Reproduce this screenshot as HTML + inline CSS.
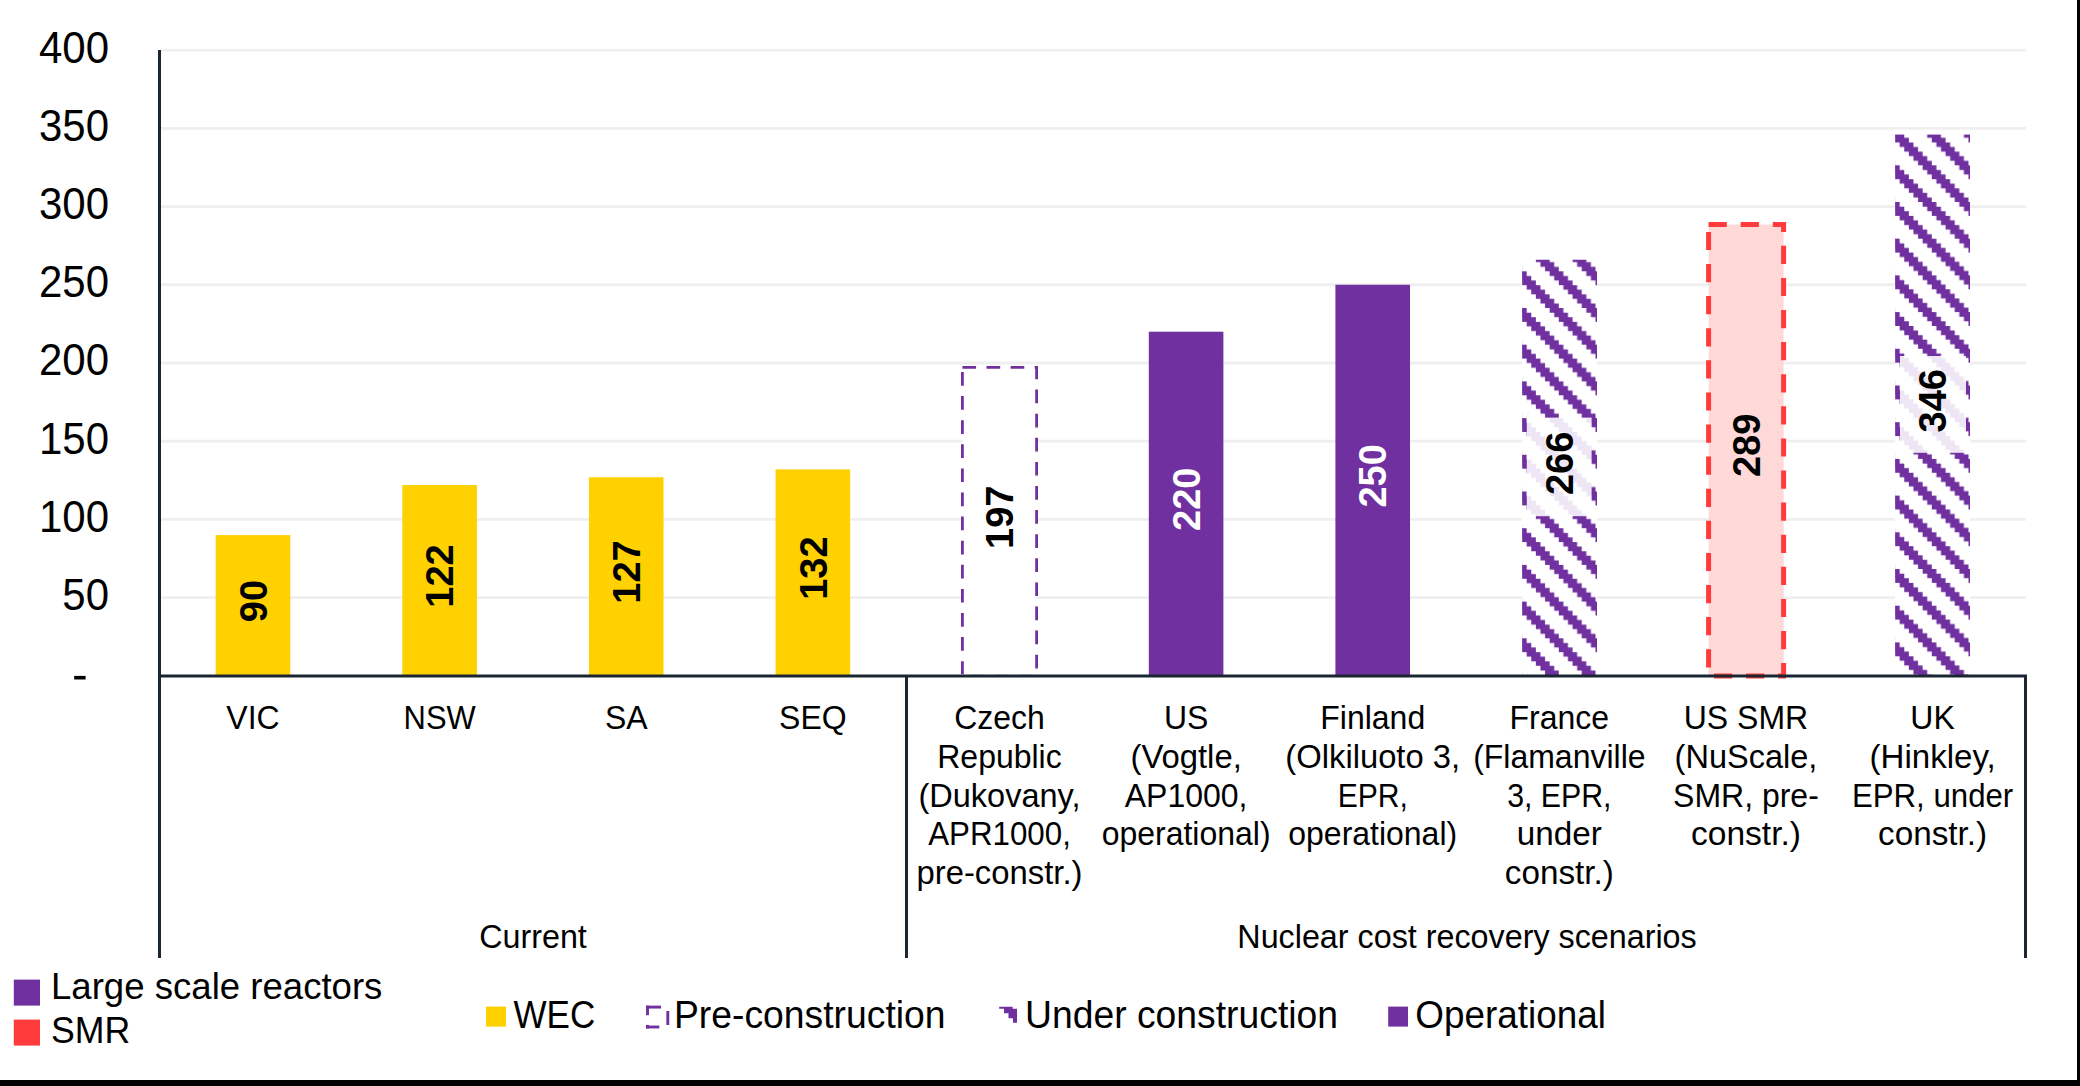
<!DOCTYPE html><html><head><meta charset="utf-8"><style>html,body{margin:0;padding:0;background:#fff;width:2080px;height:1086px;overflow:hidden}svg{display:block}text{font-family:"Liberation Sans",sans-serif}</style></head><body>
<svg width="2080" height="1086" viewBox="0 0 2080 1086">
<rect width="2080" height="1086" fill="#fff"/>
<defs><pattern id="hFr" patternUnits="userSpaceOnUse" x="1522.1" y="271.3" width="36.7" height="36.7"><path fill="#7030a0" d="M-18.350,-55.050 L-13.763,-55.050 L-13.763,-50.463 L-9.175,-50.463 L-9.175,-45.875 L-4.588,-45.875 L-4.588,-41.288 L0.000,-41.288 L0.000,-36.700 L4.588,-36.700 L4.588,-32.113 L9.175,-32.113 L9.175,-27.525 L13.763,-27.525 L13.763,-22.938 L18.350,-22.938 L18.350,-18.350 L22.938,-18.350 L22.938,-13.763 L27.525,-13.763 L27.525,-9.175 L32.113,-9.175 L32.113,-4.588 L36.700,-4.588 L36.700,0.000 L41.288,0.000 L41.288,4.588 L45.875,4.588 L45.875,9.175 L50.463,9.175 L50.463,13.763 L55.050,13.763 L55.050,18.350 L59.638,18.350 L59.638,32.113 L55.050,32.113 L55.050,27.525 L50.463,27.525 L50.463,22.938 L45.875,22.938 L45.875,18.350 L41.288,18.350 L41.288,13.763 L36.700,13.763 L36.700,9.175 L32.113,9.175 L32.113,4.588 L27.525,4.588 L27.525,0.000 L22.938,0.000 L22.938,-4.588 L18.350,-4.588 L18.350,-9.175 L13.763,-9.175 L13.763,-13.763 L9.175,-13.763 L9.175,-18.350 L4.588,-18.350 L4.588,-22.938 L0.000,-22.938 L0.000,-27.525 L-4.588,-27.525 L-4.588,-32.113 L-9.175,-32.113 L-9.175,-36.700 L-13.763,-36.700 L-13.763,-41.288 L-18.350,-41.288Z M-18.350,-18.350 L-13.763,-18.350 L-13.763,-13.763 L-9.175,-13.763 L-9.175,-9.175 L-4.588,-9.175 L-4.588,-4.588 L0.000,-4.588 L0.000,0.000 L4.588,0.000 L4.588,4.588 L9.175,4.588 L9.175,9.175 L13.763,9.175 L13.763,13.763 L18.350,13.763 L18.350,18.350 L22.938,18.350 L22.938,22.938 L27.525,22.938 L27.525,27.525 L32.113,27.525 L32.113,32.113 L36.700,32.113 L36.700,36.700 L41.288,36.700 L41.288,41.288 L45.875,41.288 L45.875,45.875 L50.463,45.875 L50.463,50.463 L55.050,50.463 L55.050,55.050 L59.638,55.050 L59.638,68.812 L55.050,68.812 L55.050,64.225 L50.463,64.225 L50.463,59.638 L45.875,59.638 L45.875,55.050 L41.288,55.050 L41.288,50.463 L36.700,50.463 L36.700,45.875 L32.113,45.875 L32.113,41.288 L27.525,41.288 L27.525,36.700 L22.938,36.700 L22.938,32.113 L18.350,32.113 L18.350,27.525 L13.763,27.525 L13.763,22.938 L9.175,22.938 L9.175,18.350 L4.588,18.350 L4.588,13.763 L0.000,13.763 L0.000,9.175 L-4.588,9.175 L-4.588,4.588 L-9.175,4.588 L-9.175,0.000 L-13.763,0.000 L-13.763,-4.588 L-18.350,-4.588Z M-18.350,18.350 L-13.763,18.350 L-13.763,22.938 L-9.175,22.938 L-9.175,27.525 L-4.588,27.525 L-4.588,32.113 L0.000,32.113 L0.000,36.700 L4.588,36.700 L4.588,41.288 L9.175,41.288 L9.175,45.875 L13.763,45.875 L13.763,50.463 L18.350,50.463 L18.350,55.050 L22.938,55.050 L22.938,59.638 L27.525,59.638 L27.525,64.225 L32.113,64.225 L32.113,68.812 L36.700,68.812 L36.700,73.400 L41.288,73.400 L41.288,77.988 L45.875,77.988 L45.875,82.575 L50.463,82.575 L50.463,87.163 L55.050,87.163 L55.050,91.750 L59.638,91.750 L59.638,105.513 L55.050,105.513 L55.050,100.925 L50.463,100.925 L50.463,96.338 L45.875,96.338 L45.875,91.750 L41.288,91.750 L41.288,87.163 L36.700,87.163 L36.700,82.575 L32.113,82.575 L32.113,77.988 L27.525,77.988 L27.525,73.400 L22.938,73.400 L22.938,68.812 L18.350,68.812 L18.350,64.225 L13.763,64.225 L13.763,59.638 L9.175,59.638 L9.175,55.050 L4.588,55.050 L4.588,50.463 L0.000,50.463 L0.000,45.875 L-4.588,45.875 L-4.588,41.288 L-9.175,41.288 L-9.175,36.700 L-13.763,36.700 L-13.763,32.113 L-18.350,32.113Z"/></pattern><pattern id="hUK" patternUnits="userSpaceOnUse" x="1895.1" y="165.3" width="36.7" height="36.7"><path fill="#7030a0" d="M-18.350,-55.050 L-13.763,-55.050 L-13.763,-50.463 L-9.175,-50.463 L-9.175,-45.875 L-4.588,-45.875 L-4.588,-41.288 L0.000,-41.288 L0.000,-36.700 L4.588,-36.700 L4.588,-32.113 L9.175,-32.113 L9.175,-27.525 L13.763,-27.525 L13.763,-22.938 L18.350,-22.938 L18.350,-18.350 L22.938,-18.350 L22.938,-13.763 L27.525,-13.763 L27.525,-9.175 L32.113,-9.175 L32.113,-4.588 L36.700,-4.588 L36.700,0.000 L41.288,0.000 L41.288,4.588 L45.875,4.588 L45.875,9.175 L50.463,9.175 L50.463,13.763 L55.050,13.763 L55.050,18.350 L59.638,18.350 L59.638,32.113 L55.050,32.113 L55.050,27.525 L50.463,27.525 L50.463,22.938 L45.875,22.938 L45.875,18.350 L41.288,18.350 L41.288,13.763 L36.700,13.763 L36.700,9.175 L32.113,9.175 L32.113,4.588 L27.525,4.588 L27.525,0.000 L22.938,0.000 L22.938,-4.588 L18.350,-4.588 L18.350,-9.175 L13.763,-9.175 L13.763,-13.763 L9.175,-13.763 L9.175,-18.350 L4.588,-18.350 L4.588,-22.938 L0.000,-22.938 L0.000,-27.525 L-4.588,-27.525 L-4.588,-32.113 L-9.175,-32.113 L-9.175,-36.700 L-13.763,-36.700 L-13.763,-41.288 L-18.350,-41.288Z M-18.350,-18.350 L-13.763,-18.350 L-13.763,-13.763 L-9.175,-13.763 L-9.175,-9.175 L-4.588,-9.175 L-4.588,-4.588 L0.000,-4.588 L0.000,0.000 L4.588,0.000 L4.588,4.588 L9.175,4.588 L9.175,9.175 L13.763,9.175 L13.763,13.763 L18.350,13.763 L18.350,18.350 L22.938,18.350 L22.938,22.938 L27.525,22.938 L27.525,27.525 L32.113,27.525 L32.113,32.113 L36.700,32.113 L36.700,36.700 L41.288,36.700 L41.288,41.288 L45.875,41.288 L45.875,45.875 L50.463,45.875 L50.463,50.463 L55.050,50.463 L55.050,55.050 L59.638,55.050 L59.638,68.812 L55.050,68.812 L55.050,64.225 L50.463,64.225 L50.463,59.638 L45.875,59.638 L45.875,55.050 L41.288,55.050 L41.288,50.463 L36.700,50.463 L36.700,45.875 L32.113,45.875 L32.113,41.288 L27.525,41.288 L27.525,36.700 L22.938,36.700 L22.938,32.113 L18.350,32.113 L18.350,27.525 L13.763,27.525 L13.763,22.938 L9.175,22.938 L9.175,18.350 L4.588,18.350 L4.588,13.763 L0.000,13.763 L0.000,9.175 L-4.588,9.175 L-4.588,4.588 L-9.175,4.588 L-9.175,0.000 L-13.763,0.000 L-13.763,-4.588 L-18.350,-4.588Z M-18.350,18.350 L-13.763,18.350 L-13.763,22.938 L-9.175,22.938 L-9.175,27.525 L-4.588,27.525 L-4.588,32.113 L0.000,32.113 L0.000,36.700 L4.588,36.700 L4.588,41.288 L9.175,41.288 L9.175,45.875 L13.763,45.875 L13.763,50.463 L18.350,50.463 L18.350,55.050 L22.938,55.050 L22.938,59.638 L27.525,59.638 L27.525,64.225 L32.113,64.225 L32.113,68.812 L36.700,68.812 L36.700,73.400 L41.288,73.400 L41.288,77.988 L45.875,77.988 L45.875,82.575 L50.463,82.575 L50.463,87.163 L55.050,87.163 L55.050,91.750 L59.638,91.750 L59.638,105.513 L55.050,105.513 L55.050,100.925 L50.463,100.925 L50.463,96.338 L45.875,96.338 L45.875,91.750 L41.288,91.750 L41.288,87.163 L36.700,87.163 L36.700,82.575 L32.113,82.575 L32.113,77.988 L27.525,77.988 L27.525,73.400 L22.938,73.400 L22.938,68.812 L18.350,68.812 L18.350,64.225 L13.763,64.225 L13.763,59.638 L9.175,59.638 L9.175,55.050 L4.588,55.050 L4.588,50.463 L0.000,50.463 L0.000,45.875 L-4.588,45.875 L-4.588,41.288 L-9.175,41.288 L-9.175,36.700 L-13.763,36.700 L-13.763,32.113 L-18.350,32.113Z"/></pattern><pattern id="hLg" patternUnits="userSpaceOnUse" x="999.2" y="1006.8" width="36.7" height="36.7"><path fill="#7030a0" d="M-18.350,-55.050 L-13.763,-55.050 L-13.763,-50.463 L-9.175,-50.463 L-9.175,-45.875 L-4.588,-45.875 L-4.588,-41.288 L0.000,-41.288 L0.000,-36.700 L4.588,-36.700 L4.588,-32.113 L9.175,-32.113 L9.175,-27.525 L13.763,-27.525 L13.763,-22.938 L18.350,-22.938 L18.350,-18.350 L22.938,-18.350 L22.938,-13.763 L27.525,-13.763 L27.525,-9.175 L32.113,-9.175 L32.113,-4.588 L36.700,-4.588 L36.700,0.000 L41.288,0.000 L41.288,4.588 L45.875,4.588 L45.875,9.175 L50.463,9.175 L50.463,13.763 L55.050,13.763 L55.050,18.350 L59.638,18.350 L59.638,32.113 L55.050,32.113 L55.050,27.525 L50.463,27.525 L50.463,22.938 L45.875,22.938 L45.875,18.350 L41.288,18.350 L41.288,13.763 L36.700,13.763 L36.700,9.175 L32.113,9.175 L32.113,4.588 L27.525,4.588 L27.525,0.000 L22.938,0.000 L22.938,-4.588 L18.350,-4.588 L18.350,-9.175 L13.763,-9.175 L13.763,-13.763 L9.175,-13.763 L9.175,-18.350 L4.588,-18.350 L4.588,-22.938 L0.000,-22.938 L0.000,-27.525 L-4.588,-27.525 L-4.588,-32.113 L-9.175,-32.113 L-9.175,-36.700 L-13.763,-36.700 L-13.763,-41.288 L-18.350,-41.288Z M-18.350,-18.350 L-13.763,-18.350 L-13.763,-13.763 L-9.175,-13.763 L-9.175,-9.175 L-4.588,-9.175 L-4.588,-4.588 L0.000,-4.588 L0.000,0.000 L4.588,0.000 L4.588,4.588 L9.175,4.588 L9.175,9.175 L13.763,9.175 L13.763,13.763 L18.350,13.763 L18.350,18.350 L22.938,18.350 L22.938,22.938 L27.525,22.938 L27.525,27.525 L32.113,27.525 L32.113,32.113 L36.700,32.113 L36.700,36.700 L41.288,36.700 L41.288,41.288 L45.875,41.288 L45.875,45.875 L50.463,45.875 L50.463,50.463 L55.050,50.463 L55.050,55.050 L59.638,55.050 L59.638,68.812 L55.050,68.812 L55.050,64.225 L50.463,64.225 L50.463,59.638 L45.875,59.638 L45.875,55.050 L41.288,55.050 L41.288,50.463 L36.700,50.463 L36.700,45.875 L32.113,45.875 L32.113,41.288 L27.525,41.288 L27.525,36.700 L22.938,36.700 L22.938,32.113 L18.350,32.113 L18.350,27.525 L13.763,27.525 L13.763,22.938 L9.175,22.938 L9.175,18.350 L4.588,18.350 L4.588,13.763 L0.000,13.763 L0.000,9.175 L-4.588,9.175 L-4.588,4.588 L-9.175,4.588 L-9.175,0.000 L-13.763,0.000 L-13.763,-4.588 L-18.350,-4.588Z M-18.350,18.350 L-13.763,18.350 L-13.763,22.938 L-9.175,22.938 L-9.175,27.525 L-4.588,27.525 L-4.588,32.113 L0.000,32.113 L0.000,36.700 L4.588,36.700 L4.588,41.288 L9.175,41.288 L9.175,45.875 L13.763,45.875 L13.763,50.463 L18.350,50.463 L18.350,55.050 L22.938,55.050 L22.938,59.638 L27.525,59.638 L27.525,64.225 L32.113,64.225 L32.113,68.812 L36.700,68.812 L36.700,73.400 L41.288,73.400 L41.288,77.988 L45.875,77.988 L45.875,82.575 L50.463,82.575 L50.463,87.163 L55.050,87.163 L55.050,91.750 L59.638,91.750 L59.638,105.513 L55.050,105.513 L55.050,100.925 L50.463,100.925 L50.463,96.338 L45.875,96.338 L45.875,91.750 L41.288,91.750 L41.288,87.163 L36.700,87.163 L36.700,82.575 L32.113,82.575 L32.113,77.988 L27.525,77.988 L27.525,73.400 L22.938,73.400 L22.938,68.812 L18.350,68.812 L18.350,64.225 L13.763,64.225 L13.763,59.638 L9.175,59.638 L9.175,55.050 L4.588,55.050 L4.588,50.463 L0.000,50.463 L0.000,45.875 L-4.588,45.875 L-4.588,41.288 L-9.175,41.288 L-9.175,36.700 L-13.763,36.700 L-13.763,32.113 L-18.350,32.113Z"/></pattern></defs>
<line x1="161" x2="2026" y1="597.67" y2="597.67" stroke="#efefef" stroke-width="2.8"/>
<line x1="161" x2="2026" y1="519.45" y2="519.45" stroke="#efefef" stroke-width="2.8"/>
<line x1="161" x2="2026" y1="441.22" y2="441.22" stroke="#efefef" stroke-width="2.8"/>
<line x1="161" x2="2026" y1="363.00" y2="363.00" stroke="#efefef" stroke-width="2.8"/>
<line x1="161" x2="2026" y1="284.77" y2="284.77" stroke="#efefef" stroke-width="2.8"/>
<line x1="161" x2="2026" y1="206.55" y2="206.55" stroke="#efefef" stroke-width="2.8"/>
<line x1="161" x2="2026" y1="128.32" y2="128.32" stroke="#efefef" stroke-width="2.8"/>
<line x1="161" x2="2026" y1="50.10" y2="50.10" stroke="#efefef" stroke-width="2.8"/>
<text transform="translate(109,610.07) scale(1,1.035)" font-size="42" text-anchor="end">50</text>
<text transform="translate(109,531.85) scale(1,1.035)" font-size="42" text-anchor="end">100</text>
<text transform="translate(109,453.62) scale(1,1.035)" font-size="42" text-anchor="end">150</text>
<text transform="translate(109,375.40) scale(1,1.035)" font-size="42" text-anchor="end">200</text>
<text transform="translate(109,297.17) scale(1,1.035)" font-size="42" text-anchor="end">250</text>
<text transform="translate(109,218.95) scale(1,1.035)" font-size="42" text-anchor="end">300</text>
<text transform="translate(109,140.72) scale(1,1.035)" font-size="42" text-anchor="end">350</text>
<text transform="translate(109,62.50) scale(1,1.035)" font-size="42" text-anchor="end">400</text>
<rect x="74.2" y="675.9" width="11.4" height="3.6" fill="#000"/>
<rect x="215.70" y="535.10" width="74.6" height="140.80" fill="#ffd100"/>
<rect x="402.32" y="485.03" width="74.6" height="190.87" fill="#ffd100"/>
<rect x="588.94" y="477.21" width="74.6" height="198.69" fill="#ffd100"/>
<rect x="775.56" y="469.39" width="74.6" height="206.51" fill="#ffd100"/>
<rect x="962.4" y="367.4" width="74.2" height="308.5" fill="#fff"/>
<clipPath id="czc"><rect x="900" y="300" width="200" height="374.2"/></clipPath>
<path clip-path="url(#czc)" d="M962.4,367.4 H1036.6 V675.9 H962.4 Z" fill="none" stroke="#7030a0" stroke-width="2.8" stroke-dasharray="13.7 10.4"/>
<rect x="1148.80" y="331.71" width="74.6" height="344.19" fill="#7030a0"/>
<rect x="1335.42" y="284.77" width="74.6" height="391.12" fill="#7030a0"/>
<rect x="1522.1" y="259.74" width="74.9" height="416.16" fill="#fff"/>
<rect x="1522.1" y="259.74" width="74.9" height="416.16" fill="url(#hFr)"/>
<rect x="1708.6" y="224.5" width="75.0" height="451.4" fill="#ffd8d8"/>
<path d="M1708.6,224.5 H1783.6 V675.9 H1708.6 Z" fill="none" stroke="#ff3b3b" stroke-width="5" stroke-dasharray="18.2 13.9"/>
<rect x="1895.1" y="134.58" width="74.9" height="541.32" fill="#fff"/>
<rect x="1895.1" y="134.58" width="74.9" height="541.32" fill="url(#hUK)"/>
<rect x="1526.8" y="417.6" width="64.8" height="98.6" fill="#fff" fill-opacity="0.88"/>
<rect x="1900" y="356" width="66" height="96.8" fill="#fff" fill-opacity="0.88"/>
<text transform="translate(266.70,601.00) rotate(-90)" font-size="38" font-weight="bold" text-anchor="middle" fill="#000">90</text>
<text transform="translate(453.32,575.97) rotate(-90)" font-size="38" font-weight="bold" text-anchor="middle" fill="#000">122</text>
<text transform="translate(639.94,572.05) rotate(-90)" font-size="38" font-weight="bold" text-anchor="middle" fill="#000">127</text>
<text transform="translate(826.56,568.14) rotate(-90)" font-size="38" font-weight="bold" text-anchor="middle" fill="#000">132</text>
<text transform="translate(1013.18,517.30) rotate(-90)" font-size="38" font-weight="bold" text-anchor="middle" fill="#000">197</text>
<text transform="translate(1199.80,499.30) rotate(-90)" font-size="38" font-weight="bold" text-anchor="middle" fill="#fff">220</text>
<text transform="translate(1386.42,475.84) rotate(-90)" font-size="38" font-weight="bold" text-anchor="middle" fill="#fff">250</text>
<text transform="translate(1573.04,463.32) rotate(-90)" font-size="38" font-weight="bold" text-anchor="middle" fill="#000">266</text>
<text transform="translate(1759.66,445.33) rotate(-90)" font-size="38" font-weight="bold" text-anchor="middle" fill="#000">289</text>
<text transform="translate(1946.28,400.74) rotate(-90)" font-size="38" font-weight="bold" text-anchor="middle" fill="#000">346</text>
<line x1="159.5" x2="159.5" y1="50" y2="958" stroke="#1a2631" stroke-width="3"/>
<line x1="158" x2="2027" y1="675.9" y2="675.9" stroke="#1a2631" stroke-width="3"/>
<line x1="906.5" x2="906.5" y1="675.9" y2="958" stroke="#1a2631" stroke-width="3"/>
<line x1="2025.5" x2="2025.5" y1="675.9" y2="958" stroke="#1a2631" stroke-width="3"/>
<text transform="translate(253.00,729.20) scale(1,1.04)" font-size="32" text-anchor="middle">VIC</text>
<text transform="translate(439.62,729.20) scale(1,1.04)" font-size="32" text-anchor="middle" textLength="72.1" lengthAdjust="spacingAndGlyphs">NSW</text>
<text transform="translate(626.24,729.20) scale(1,1.04)" font-size="32" text-anchor="middle">SA</text>
<text transform="translate(812.86,729.20) scale(1,1.04)" font-size="32" text-anchor="middle">SEQ</text>
<text transform="translate(999.48,729.20) scale(1,1.04)" font-size="32" text-anchor="middle">Czech</text>
<text transform="translate(999.48,767.90) scale(1,1.04)" font-size="32" text-anchor="middle">Republic</text>
<text transform="translate(999.48,806.60) scale(1,1.04)" font-size="32" text-anchor="middle" textLength="162.0" lengthAdjust="spacingAndGlyphs">(Dukovany,</text>
<text transform="translate(999.48,845.30) scale(1,1.04)" font-size="32" text-anchor="middle" textLength="142.7" lengthAdjust="spacingAndGlyphs">APR1000,</text>
<text transform="translate(999.48,884.00) scale(1,1.04)" font-size="32" text-anchor="middle" textLength="166.0" lengthAdjust="spacingAndGlyphs">pre-constr.)</text>
<text transform="translate(1186.10,729.20) scale(1,1.04)" font-size="32" text-anchor="middle">US</text>
<text transform="translate(1186.10,767.90) scale(1,1.04)" font-size="32" text-anchor="middle" textLength="111.3" lengthAdjust="spacingAndGlyphs">(Vogtle,</text>
<text transform="translate(1186.10,806.60) scale(1,1.04)" font-size="32" text-anchor="middle">AP1000,</text>
<text transform="translate(1186.10,845.30) scale(1,1.04)" font-size="32" text-anchor="middle">operational)</text>
<text transform="translate(1372.72,729.20) scale(1,1.04)" font-size="32" text-anchor="middle">Finland</text>
<text transform="translate(1372.72,767.90) scale(1,1.04)" font-size="32" text-anchor="middle" textLength="174.7" lengthAdjust="spacingAndGlyphs">(Olkiluoto 3,</text>
<text transform="translate(1372.72,806.60) scale(1,1.04)" font-size="32" text-anchor="middle" textLength="70.2" lengthAdjust="spacingAndGlyphs">EPR,</text>
<text transform="translate(1372.72,845.30) scale(1,1.04)" font-size="32" text-anchor="middle">operational)</text>
<text transform="translate(1559.34,729.20) scale(1,1.04)" font-size="32" text-anchor="middle">France</text>
<text transform="translate(1559.34,767.90) scale(1,1.04)" font-size="32" text-anchor="middle">(Flamanville</text>
<text transform="translate(1559.34,806.60) scale(1,1.04)" font-size="32" text-anchor="middle" textLength="104.4" lengthAdjust="spacingAndGlyphs">3, EPR,</text>
<text transform="translate(1559.34,845.30) scale(1,1.04)" font-size="32" text-anchor="middle" textLength="85.1" lengthAdjust="spacingAndGlyphs">under</text>
<text transform="translate(1559.34,884.00) scale(1,1.04)" font-size="32" text-anchor="middle" textLength="109.0" lengthAdjust="spacingAndGlyphs">constr.)</text>
<text transform="translate(1745.96,729.20) scale(1,1.04)" font-size="32" text-anchor="middle">US SMR</text>
<text transform="translate(1745.96,767.90) scale(1,1.04)" font-size="32" text-anchor="middle" textLength="142.7" lengthAdjust="spacingAndGlyphs">(NuScale,</text>
<text transform="translate(1745.96,806.60) scale(1,1.04)" font-size="32" text-anchor="middle">SMR, pre-</text>
<text transform="translate(1745.96,845.30) scale(1,1.04)" font-size="32" text-anchor="middle" textLength="110.1" lengthAdjust="spacingAndGlyphs">constr.)</text>
<text transform="translate(1932.58,729.20) scale(1,1.04)" font-size="32" text-anchor="middle">UK</text>
<text transform="translate(1932.58,767.90) scale(1,1.04)" font-size="32" text-anchor="middle" textLength="126.2" lengthAdjust="spacingAndGlyphs">(Hinkley,</text>
<text transform="translate(1932.58,806.60) scale(1,1.04)" font-size="32" text-anchor="middle" textLength="161.3" lengthAdjust="spacingAndGlyphs">EPR, under</text>
<text transform="translate(1932.58,845.30) scale(1,1.04)" font-size="32" text-anchor="middle" textLength="109.2" lengthAdjust="spacingAndGlyphs">constr.)</text>
<text transform="translate(533,947.7) scale(1,1.04)" font-size="32.3" text-anchor="middle">Current</text>
<text transform="translate(1467,947.7) scale(1,1.04)" font-size="32.3" text-anchor="middle">Nuclear cost recovery scenarios</text>
<rect x="13.8" y="979.6" width="26.2" height="26" fill="#7030a0"/>
<rect x="13.8" y="1019.6" width="26.2" height="26" fill="#ff3b3b"/>
<text x="51" y="999" font-size="36.6">Large scale reactors</text>
<text x="51" y="1042.7" font-size="36.6" textLength="79.2" lengthAdjust="spacingAndGlyphs">SMR</text>
<rect x="486" y="1006.6" width="20" height="20" fill="#ffd100"/>
<text transform="translate(513.5,1027.9) scale(1,1.04)" font-size="37.3" textLength="81.8" lengthAdjust="spacingAndGlyphs">WEC</text>
<line x1="646" y1="1007.1" x2="661" y2="1007.1" stroke="#7030a0" stroke-width="2.9"/>
<line x1="647.5" y1="1005.6" x2="647.5" y2="1015.2" stroke="#7030a0" stroke-width="2.9"/>
<line x1="667.8" y1="1011" x2="667.8" y2="1025" stroke="#7030a0" stroke-width="2.9"/>
<line x1="646" y1="1027" x2="659.3" y2="1027" stroke="#7030a0" stroke-width="2.9"/>
<line x1="647.5" y1="1024.9" x2="647.5" y2="1028.5" stroke="#7030a0" stroke-width="2.9"/>
<text transform="translate(674,1027.9) scale(1,1.04)" font-size="37.3">Pre-construction</text>
<path d="M999.2,1006.8 H1012.7 V1008.8 H1017 V1022.7 H1013 V1018.2 H1008.5 V1013.2 H1004 V1008.8 H999.2 Z" fill="#7030a0"/>
<text transform="translate(1025,1027.9) scale(1,1.04)" font-size="37.3">Under construction</text>
<rect x="1388.2" y="1006.6" width="19.8" height="20" fill="#7030a0"/>
<text transform="translate(1415.3,1027.9) scale(1,1.04)" font-size="37.3" textLength="190.6" lengthAdjust="spacingAndGlyphs">Operational</text>
<rect x="2077" y="0" width="3" height="1086" fill="#000"/>
<rect x="0" y="1080" width="2080" height="6" fill="#000"/>
</svg></body></html>
